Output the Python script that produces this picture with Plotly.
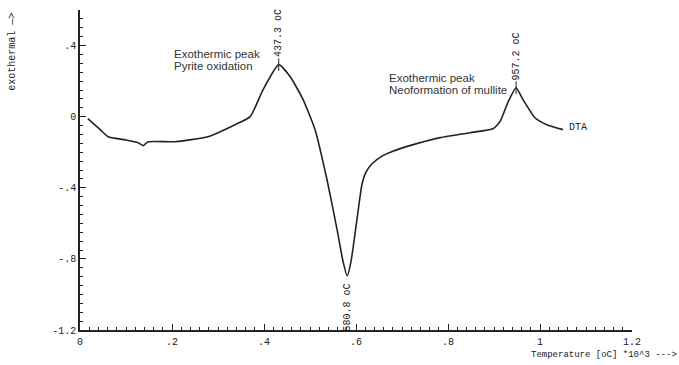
import plotly.graph_objects as go

# Temperature (oC * 10^3) and DTA signal
temp = [0.017, 0.044, 0.061, 0.098, 0.126, 0.137, 0.148, 0.207, 0.278, 0.337, 0.370,
        0.398, 0.432, 0.457, 0.485, 0.511, 0.537, 0.559, 0.572, 0.5808, 0.589, 0.602,
        0.613, 0.622, 0.636, 0.655, 0.680, 0.717, 0.783, 0.848, 0.898, 0.913, 0.930, 0.948,
        0.963, 0.989, 1.015, 1.050]
dta = [-0.011, -0.073, -0.113, -0.130, -0.146, -0.163, -0.141, -0.141, -0.113, -0.045, 0.0,
       0.152, 0.293, 0.225, 0.096, -0.073, -0.355, -0.637, -0.817, -0.896, -0.817, -0.580,
       -0.380, -0.310, -0.262, -0.225, -0.195, -0.163, -0.118, -0.090, -0.068, -0.028, 0.079,
       0.163, 0.096, -0.006, -0.045, -0.073]

x_ticks = [0, 0.2, 0.4, 0.6, 0.8, 1.0, 1.2]
x_ticktext = ["0", ".2", ".4", ".6", ".8", "1", "1.2"]
y_ticks = [-1.2, -0.8, -0.4, 0, 0.4]
y_ticktext = ["-1.2", "-.8", "-.4", "0", ".4"]

peak_labels = ["437.3 oC", "580.8 oC", "957.2 oC"]
peak_x = [0.432, 0.5808, 0.948]
peak_y = [0.293, -0.896, 0.163]

pyrite_lines = ["Exothermic peak", "Pyrite oxidation"]
mullite_lines = ["Exothermic peak", "Neoformation of mullite"]

mono = "Liberation Mono"
sans = "Liberation Sans, Arial"
ink = "#222222"

fig = go.Figure()
fig.add_trace(go.Scatter(x=temp, y=dta, mode="lines",
                         line=dict(color=ink, width=1.6, shape="spline", smoothing=0.5),
                         showlegend=False, hoverinfo="skip"))

# short marker lines at peaks
fig.add_trace(go.Scatter(x=[peak_x[0], peak_x[2]], y=[peak_y[0], peak_y[2]], mode="markers",
                         marker=dict(symbol="line-ns-open", size=9, color=ink,
                                     line=dict(width=1, color=ink)),
                         showlegend=False, hoverinfo="skip"))

fig.add_annotation(x=peak_x[0], y=peak_y[0] + 0.03, text=peak_labels[0], textangle=-90,
                   showarrow=False, xanchor="center", yanchor="bottom",
                   font=dict(family=mono, size=10, color=ink))
fig.add_annotation(x=peak_x[1], y=peak_y[1] - 0.03, text=peak_labels[1], textangle=-90,
                   showarrow=False, xanchor="center", yanchor="top",
                   font=dict(family=mono, size=10, color=ink))
fig.add_annotation(x=peak_x[2], y=peak_y[2] + 0.03, text=peak_labels[2], textangle=-90,
                   showarrow=False, xanchor="center", yanchor="bottom",
                   font=dict(family=mono, size=10, color=ink))

# two-line descriptive labels, each line placed separately for tight spacing
for i, line in enumerate(pyrite_lines):
    fig.add_annotation(x=0.20, y=0.352 - i * 0.068, text=line,
                       showarrow=False, xanchor="left", yanchor="middle",
                       font=dict(family=sans, size=11.5, color="#333333"))
for i, line in enumerate(mullite_lines):
    fig.add_annotation(x=0.667, y=0.220 - i * 0.068, text=line,
                       showarrow=False, xanchor="left", yanchor="middle",
                       font=dict(family=sans, size=11.5, color="#333333"))

fig.add_annotation(x=1.059, y=-0.062, text="DTA", showarrow=False,
                   xanchor="left", yanchor="middle",
                   font=dict(family=mono, size=10, color=ink))

fig.add_annotation(xref="paper", yref="paper", x=-0.123, y=0.87,
                   text="exothermal \u2014>", textangle=-90, showarrow=False,
                   xanchor="center", yanchor="middle",
                   font=dict(family=mono, size=10, color=ink))
fig.add_annotation(xref="paper", yref="paper", x=1.085, y=-0.078,
                   text="Temperature [oC] *10^3 --->", showarrow=False,
                   xanchor="right", yanchor="middle",
                   font=dict(family=mono, size=9, color=ink))

fig.update_xaxes(range=[0, 1.2], showline=True, linecolor=ink, linewidth=1.5,
                 showgrid=False, zeroline=False,
                 tickvals=x_ticks, ticktext=x_ticktext, ticks="inside", ticklen=6,
                 tickcolor=ink, tickwidth=1, ticklabelstandoff=1,
                 tickfont=dict(family=mono, size=10, color=ink),
                 minor=dict(dtick=0.02, tick0=0, ticks="inside", ticklen=3,
                            tickcolor=ink, showgrid=False))
fig.update_yaxes(range=[-1.2, 0.6], showline=True, linecolor=ink, linewidth=1.5,
                 showgrid=False, zeroline=False,
                 tickvals=y_ticks, ticktext=y_ticktext, ticks="inside", ticklen=6,
                 tickcolor=ink, tickwidth=1,
                 tickfont=dict(family=mono, size=10, color=ink),
                 minor=dict(dtick=0.05, tick0=0, ticks="inside", ticklen=3,
                            tickcolor=ink, showgrid=False))

fig.update_layout(width=679, height=365, margin=dict(l=80, r=47, t=10, b=35),
                  paper_bgcolor="white", plot_bgcolor="white")

fig.write_html("out.html")
